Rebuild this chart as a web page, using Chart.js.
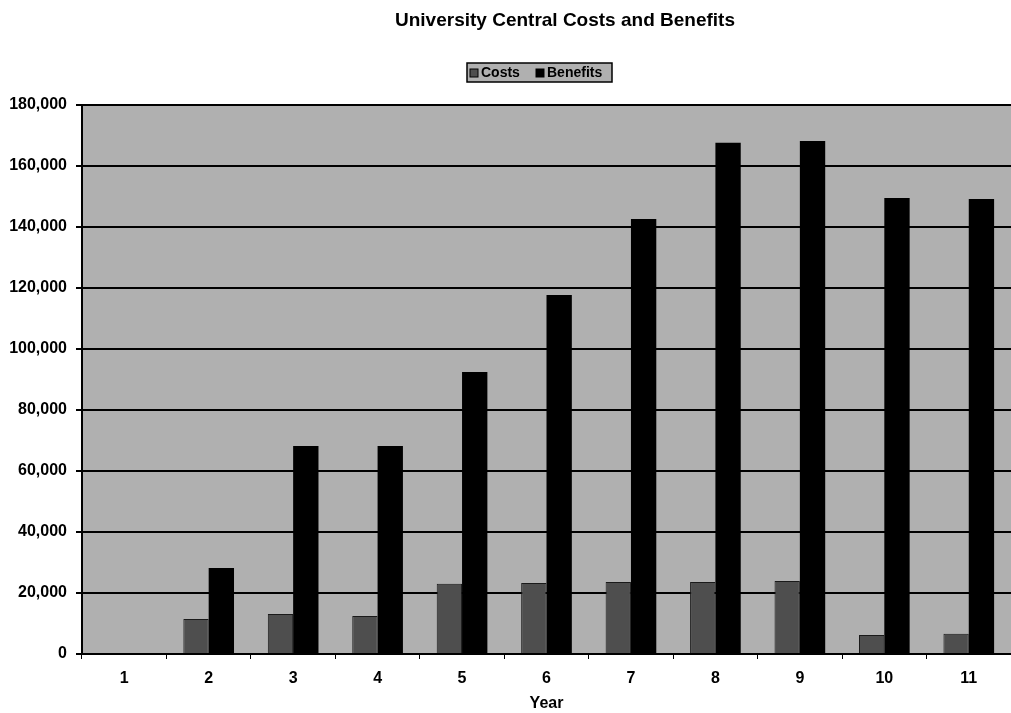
<!DOCTYPE html>
<html>
<head>
<meta charset="utf-8">
<style>
  html, body { margin: 0; padding: 0; background: #ffffff; }
  #wrap { width: 1011px; height: 713px; position: relative; }
</style>
<script src="https://cdn.jsdelivr.net/npm/chart.js@4/dist/chart.umd.min.js"></script>
</head>
<body>
<div id="wrap"><canvas id="chart" width="1011" height="713"></canvas></div>
<script>
// Years of the projection
const years = ['1', '2', '3', '4', '5', '6', '7', '8', '9', '10', '11'];
// Central costs per year
const costs = [0, 11500, 13100, 12500, 23000, 23300, 23600, 23600, 23900, 6200, 6600];
// Central benefits per year
const benefits = [0, 28200, 68200, 68200, 92500, 117700, 142600, 167600, 168200, 149500, 149200];
// Value axis
const yMin = 0, yMax = 180000, yStep = 20000;

const chartTitle = 'University Central Costs and Benefits';
const seriesNames = ['Costs', 'Benefits'];

const FONT = '"Liberation Sans", Arial, Helvetica, sans-serif';
const PLOT_BG = '#b0b0b0';
const COST_FILL = '#4e4e4e';
const BENEFIT_FILL = '#000000';

// Gray plot area behind the grid
const plotBackground = {
  id: 'plotBackground',
  beforeDraw(chart) {
    const { ctx, chartArea: a } = chart;
    ctx.save();
    ctx.fillStyle = PLOT_BG;
    ctx.fillRect(a.left, a.top, a.right - a.left, a.bottom - a.top);
    ctx.restore();
  }
};

// Title and boxed legend above the plot
const header = {
  id: 'header',
  afterDraw(chart) {
    const { ctx } = chart;
    ctx.save();
    ctx.fillStyle = '#000';
    ctx.textAlign = 'center';
    ctx.textBaseline = 'middle';
    ctx.font = 'bold 19px ' + FONT;
    ctx.fillText(chartTitle, 565, 21);

    // legend box
    const bx = 467, by = 63, bw = 145, bh = 19;
    ctx.fillStyle = PLOT_BG;
    ctx.fillRect(bx, by, bw, bh);
    ctx.lineWidth = 1.5;
    ctx.strokeStyle = '#000';
    ctx.strokeRect(bx, by, bw, bh);

    ctx.font = 'bold 14px ' + FONT;
    ctx.textAlign = 'left';
    const cy = by + bh / 2 + 0.5;
    const fills = [COST_FILL, BENEFIT_FILL];
    const xs = [470, 536];
    seriesNames.forEach((name, i) => {
      ctx.fillStyle = fills[i];
      ctx.fillRect(xs[i], cy - 4, 8, 8);
      ctx.strokeStyle = '#000';
      ctx.lineWidth = 1;
      ctx.strokeRect(xs[i], cy - 4, 8, 8);
      ctx.fillStyle = '#000';
      ctx.fillText(name, xs[i] + 11, cy);
    });
    ctx.restore();
  }
};

new Chart(document.getElementById('chart'), {
  type: 'bar',
  data: {
    labels: years,
    datasets: [
      {
        label: seriesNames[0],
        data: costs,
        backgroundColor: COST_FILL,
        borderColor: '#1a1a1a',
        borderWidth: 1,
        categoryPercentage: 0.6,
        barPercentage: 1.0
      },
      {
        label: seriesNames[1],
        data: benefits,
        backgroundColor: BENEFIT_FILL,
        borderColor: '#000',
        borderWidth: 0,
        categoryPercentage: 0.6,
        barPercentage: 1.0
      }
    ]
  },
  options: {
    responsive: false,
    animation: false,
    devicePixelRatio: 1,
    layout: { padding: { top: 105, right: 0, bottom: 0, left: 0 } },
    plugins: {
      legend: { display: false },
      title: { display: false },
      tooltip: { enabled: false }
    },
    scales: {
      x: {
        afterFit(scale) { scale.height = 59; },
        grid: {
          offset: true,
          drawOnChartArea: false,
          drawTicks: true,
          tickLength: 5,
          color: '#000',
          lineWidth: 1
        },
        border: { display: true, color: '#000', width: 2 },
        ticks: {
          color: '#000',
          padding: 10,
          font: { family: FONT, size: 16, weight: 'bold' }
        },
        title: {
          display: true,
          text: 'Year',
          color: '#000',
          padding: { top: 0, bottom: 0 },
          font: { family: FONT, size: 16, weight: 'bold' }
        }
      },
      y: {
        min: yMin,
        max: yMax,
        afterFit(scale) { scale.width = 82; },
        grid: {
          color: '#000',
          lineWidth: 2,
          drawTicks: true,
          tickLength: 6
        },
        border: { display: true, color: '#000', width: 2 },
        ticks: {
          stepSize: yStep,
          color: '#000',
          padding: 9,
          font: { family: FONT, size: 16, weight: 'bold' },
          callback: (v) => v.toLocaleString('en-US')
        }
      }
    }
  },
  plugins: [plotBackground, header]
});
</script>
</body>
</html>
